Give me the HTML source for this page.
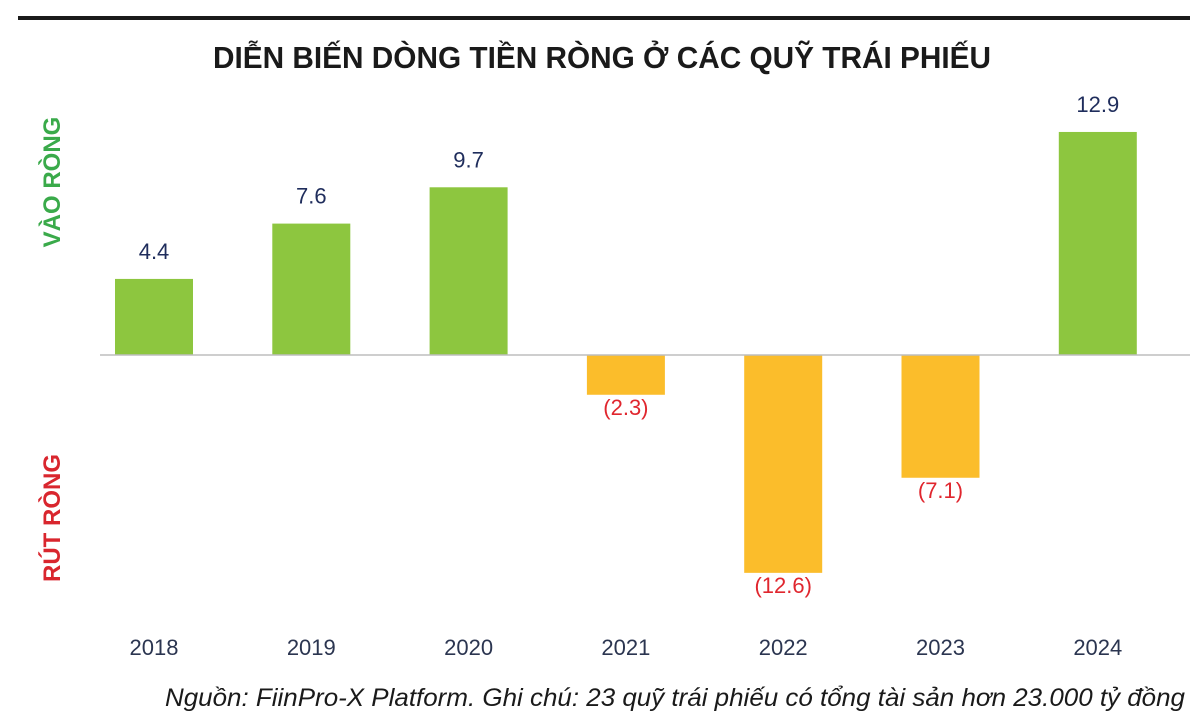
<!DOCTYPE html>
<html><head><meta charset="utf-8"><style>
html,body{margin:0;padding:0;background:#fff;}
svg{display:block;}
</style></head><body>
<svg id="chart" width="1200" height="723" viewBox="0 0 1200 723" xmlns="http://www.w3.org/2000/svg">
<rect x="18" y="16" width="1172" height="4" fill="#1a1a1a"/>
<text x="602" y="68" text-anchor="middle" font-family="Liberation Sans Narrow, Liberation Sans, sans-serif" font-weight="bold" font-size="31" fill="#1a1a1a" textLength="778" lengthAdjust="spacingAndGlyphs">DIỄN BIẾN DÒNG TIỀN RÒNG Ở CÁC QUỸ TRÁI PHIẾU</text>
<text transform="translate(60,182) rotate(-90)" text-anchor="middle" font-family="Liberation Sans, sans-serif" font-weight="bold" font-size="24" fill="#3aaa4a">VÀO RÒNG</text>
<text transform="translate(60,518) rotate(-90)" text-anchor="middle" font-family="Liberation Sans, sans-serif" font-weight="bold" font-size="24" fill="#d9262e">RÚT RÒNG</text>
<g id="bars"></g>
<line x1="100" y1="355" x2="1190" y2="355" stroke="#bdbdbd" stroke-width="1.5"/>
<text x="1185" y="706" text-anchor="end" font-family="Liberation Sans Narrow, Liberation Sans, sans-serif" font-style="italic" font-size="25" fill="#1a1a1a" textLength="1020" lengthAdjust="spacingAndGlyphs">Nguồn: FiinPro-X Platform. Ghi chú: 23 quỹ trái phiếu có tổng tài sản hơn 23.000 tỷ đồng</text>
</svg>
<script>
const categories = ["2018","2019","2020","2021","2022","2023","2024"];
const values = [4.4, 7.6, 9.7, -2.3, -12.6, -7.1, 12.9];
const valueLabels = ["4.4","7.6","9.7","(2.3)","(12.6)","(7.1)","12.9"];

const NS = "http://www.w3.org/2000/svg";
const zeroY = 355, pxPerUnit = 17.29;
const x0 = 154, step = 157.3, barW = 78;
function xScale(i){ return x0 + i*step; }
function yScale(v){ return zeroY - v*pxPerUnit; }
const g = document.getElementById('bars');
categories.forEach((c,i)=>{
  const v = values[i];
  const cx = xScale(i);
  const y = yScale(v);
  const r = document.createElementNS(NS,'rect');
  r.setAttribute('x', cx-barW/2);
  r.setAttribute('y', Math.min(y,zeroY));
  r.setAttribute('width', barW);
  r.setAttribute('height', Math.abs(zeroY-y));
  r.setAttribute('fill', v>=0 ? '#8dc63f' : '#fbbd2b');
  
  
  g.appendChild(r);
  const t = document.createElementNS(NS,'text');
  t.setAttribute('x', cx);
  t.setAttribute('y', v>=0 ? y-20 : y+20);
  t.setAttribute('text-anchor','middle');
  t.setAttribute('font-family','Liberation Sans, sans-serif');
  t.setAttribute('font-size','22');
  t.setAttribute('fill', v>=0 ? '#1f2d5c' : '#e0262e');
  t.textContent = valueLabels[i];
  
  
  g.appendChild(t);
  const yl = document.createElementNS(NS,'text');
  yl.setAttribute('x', cx);
  yl.setAttribute('y', 655);
  yl.setAttribute('text-anchor','middle');
  yl.setAttribute('font-family','Liberation Sans, sans-serif');
  yl.setAttribute('font-size','22');
  yl.setAttribute('fill','#2b3550');
  yl.textContent = c;
  
  
  g.appendChild(yl);
});
</script>
</body></html>
